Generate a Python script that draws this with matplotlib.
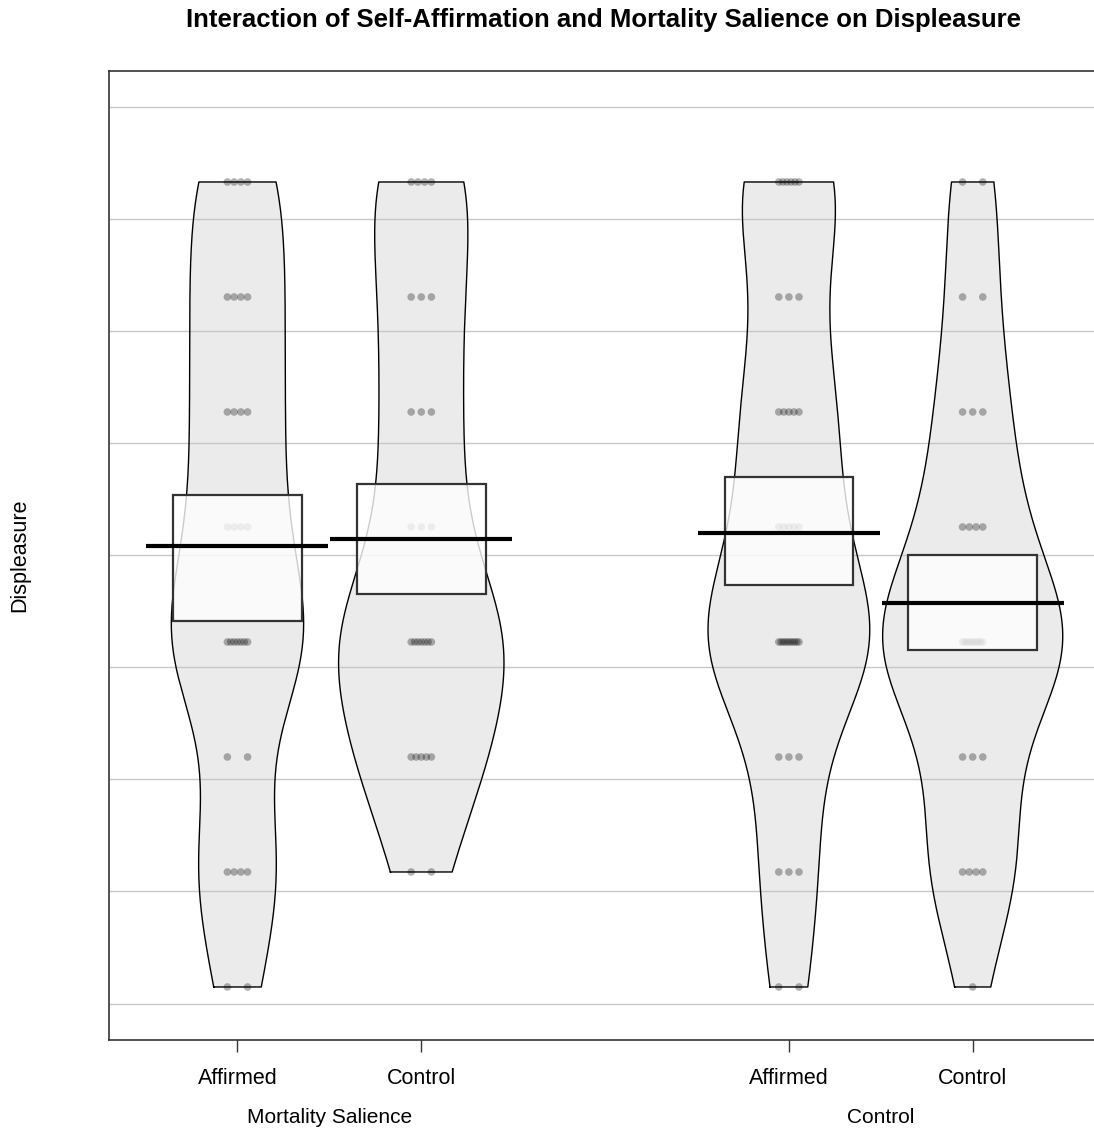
import matplotlib
matplotlib.use("Agg")
import matplotlib.pyplot as plt
import numpy as np

plt.rcParams['font.family'] = ['Liberation Sans', 'DejaVu Sans']

# response levels (1 = lowest, 8 = highest) and how many participants sit at each
levels = np.arange(1, 9)
counts_ms_affirmed = [2, 4, 2, 7, 4, 4, 4, 4]
counts_ms_control = [0, 2, 5, 7, 3, 3, 3, 4]
counts_ctl_affirmed = [2, 3, 3, 10, 5, 5, 3, 6]
counts_ctl_control = [1, 4, 3, 9, 4, 3, 2, 2]

# summary values (mean and inference band)
means = [4.835, 4.896, 4.948, 4.339]
band_low = [4.183, 4.417, 4.496, 3.930]
band_high = [5.278, 5.374, 5.435, 4.757]
max_halfwidth = [0.36, 0.45, 0.44, 0.49]

tick_labels = ['Affirmed', 'Control', 'Affirmed', 'Control']
group_labels = ['Mortality Salience', 'Control']
grid_vals = [0.852, 1.835, 2.809, 3.783, 4.757, 5.730, 6.704, 7.678, 8.652]

positions = [1, 2, 4, 5]
all_counts = [counts_ms_affirmed, counts_ms_control, counts_ctl_affirmed, counts_ctl_control]

fig = plt.figure(figsize=(10.94, 11.34), dpi=100)
ax = fig.add_axes([109 / 1094, 94 / 1134, 985 / 1094, 969 / 1134])

for g in grid_vals:
    ax.axhline(g, color='#c8c8c8', lw=1, zorder=0)

bw = 0.65
for i, (pos, counts) in enumerate(zip(positions, all_counts)):
    counts = np.array(counts)
    present = levels[counts > 0]
    y = np.linspace(present.min(), present.max(), 300)
    dens = np.zeros_like(y)
    for lv, c in zip(levels, counts):
        dens += c * np.exp(-0.5 * ((y - lv) / bw) ** 2)
    hw = dens / dens.max() * max_halfwidth[i]
    xs = np.concatenate([pos - hw, (pos + hw)[::-1]])
    ys = np.concatenate([y, y[::-1]])
    ax.fill(xs, ys, facecolor='#bfbfbf', alpha=0.3, edgecolor='none', zorder=1)
    ax.plot(np.append(xs, xs[0]), np.append(ys, ys[0]), color='black', lw=1, zorder=1.5)

    # raw points, spread a little sideways
    for lv, c in zip(levels, counts):
        if c == 0:
            continue
        offs = np.linspace(-0.055, 0.055, c) if c > 1 else np.array([0.0])
        ax.scatter(pos + offs, np.full(c, lv), s=30, color='black', alpha=0.3,
                   edgecolors='none', zorder=2)

    # inference band
    ax.add_patch(plt.Rectangle((pos - 0.35, band_low[i]), 0.70, band_high[i] - band_low[i],
                               facecolor='white', alpha=0.8, edgecolor='none', zorder=3))
    ax.add_patch(plt.Rectangle((pos - 0.35, band_low[i]), 0.70, band_high[i] - band_low[i],
                               facecolor='none', edgecolor='#333333', lw=1.6, zorder=3.5))
    # mean line
    ax.plot([pos - 0.495, pos + 0.495], [means[i], means[i]], color='black', lw=3, zorder=4,
            solid_capstyle='butt')

ax.set_xlim(0.301, 5.66)
ax.set_ylim(0.539, 8.965)
ax.set_yticks([])
ax.set_xticks(positions)
ax.set_xticklabels(tick_labels, fontsize=15.5)
ax.tick_params(axis='x', length=8.5, width=1, pad=12, color='#333333')
for s in ['top', 'left', 'bottom']:
    ax.spines[s].set_color('#333333')
    ax.spines[s].set_linewidth(1.2)
ax.spines['right'].set_visible(False)

for xg, lab in zip([1.5, 4.5], group_labels):
    ax.text(xg, -0.08, lab, transform=ax.get_xaxis_transform(), ha='center', va='center',
            fontsize=15)

fig.text(20 / 1094, 1 - 555 / 1134, 'Displeasure', rotation=90, ha='center', va='center',
         fontsize=15.5)
fig.text(604 / 1094, 1 - 20 / 1134,
         'Interaction of Self-Affirmation and Mortality Salience on Displeasure',
         ha='center', va='center', fontsize=18.5, fontweight='bold')

fig.savefig('out.png', dpi=100)
